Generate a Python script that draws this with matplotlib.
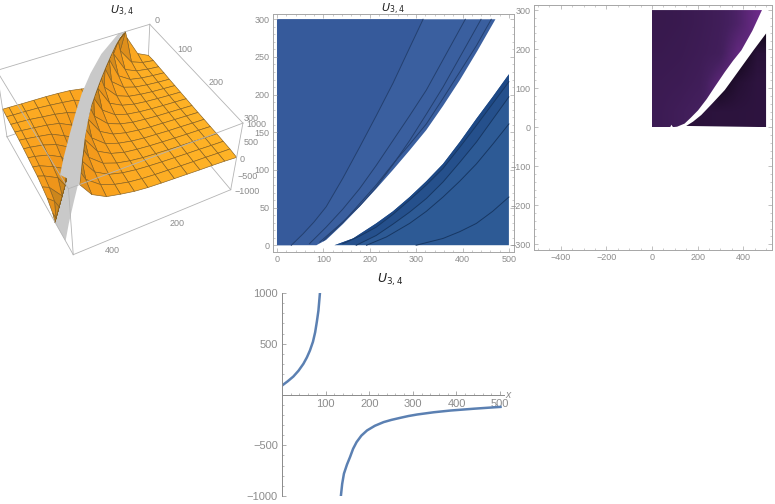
import numpy as np
import matplotlib
matplotlib.use('Agg')
import matplotlib.pyplot as plt
from matplotlib.colors import LinearSegmentedColormap
from matplotlib.patches import Polygon
from matplotlib.ticker import MultipleLocator
from mpl_toolkits.mplot3d.art3d import Poly3DCollection

# ---------- data ----------
TITLE = r'$U_{3,4}$'
# slice (bottom panel)
left_x = [0, 13, 26, 38, 49, 57, 64, 71, 76, 80, 83.5, 87]
left_y = [88, 130, 177, 235, 302, 365, 433, 520, 613, 720, 826, 1000]
right_x = [135, 138, 142, 149, 156, 163, 171, 182, 195, 213, 233, 251, 271, 290, 310, 348, 386, 440, 501]
right_y = [-1000, -880, -780, -690, -616, -535, -469, -405, -354, -308, -272, -250, -230, -212, -197, -175, -158, -140, -122]

# contour panel: upper region edge, lower region edge, contour lines
up_edge_x = [85, 106, 142, 178, 214, 250, 286, 322, 358, 394, 432, 471]
up_edge_y = [0, 7, 28, 51, 75, 100, 126, 153, 185, 219, 258, 300]
lo_edge_x = [124, 164, 214, 250, 286, 322, 358, 394, 430, 465, 500]
lo_edge_y = [0, 9, 29, 45, 64, 85, 108, 137, 168, 197, 227]
c1x = [31, 56, 80, 106, 142, 178, 214, 250, 282, 315]
c1y = [0, 15, 31, 51, 89, 130, 172, 215, 257, 300]
c2x = [70, 106, 142, 178, 214, 250, 286, 322, 364, 406]
c2y = [2, 24, 48, 75, 106, 139, 172, 206, 253, 300]
c3x = [92, 142, 178, 214, 250, 286, 322, 358, 400, 440]
c3y = [4, 31, 52, 77, 107, 139, 174, 210, 256, 300]
c4x = [100, 142, 178, 214, 250, 286, 322, 358, 394, 430, 462]
c4y = [6, 30, 55, 80, 108, 134, 161, 195, 230, 265, 300]
l1x = [142, 178, 214, 250, 286, 322, 358, 394, 430, 465, 500]
l1y = [2, 12, 24, 41, 60, 80, 102, 130, 159, 188, 217]
l2x = [171, 214, 250, 286, 322, 358, 394, 430, 465, 500]
l2y = [0, 13, 28, 44, 62, 84, 110, 137, 167, 197]
l3x = [193, 236, 286, 322, 358, 394, 430, 465, 500]
l3y = [0, 11, 29, 45, 64, 85, 108, 134, 161]
l4x = [300, 358, 394, 430, 465, 500]
l4y = [0, 9, 18, 29, 45, 64]

# density panel edges and colour values
d_up_x = [0, 80, 85, 92, 110, 143, 170, 202, 240, 275, 319, 355, 392, 440, 482]
d_up_y = [0, 0, 6, 0, 1, 9, 24, 43, 72, 103, 141, 170, 197, 247, 300]
d_lo_x = [150, 180, 216, 265, 319, 355, 392, 445, 500]
d_lo_y = [3, 14, 31, 61, 95, 124, 154, 197, 240]
d_up_vals = [[.55, .60, .66, .80, .80, .80],
             [.53, .55, .60, .80, .85, .85],
             [.50, .52, .56, .62, .85, .85],
             [.48, .50, .54, .60, .72, .90]]
d_lo_vals = [[.30, .30, .30, .32, .32, .33],
             [.30, .30, .30, .08, .25, .33],
             [.30, .30, .30, .30, .03, .28],
             [.30, .30, .30, .30, .30, .00]]

# surface: x grid, y grid, z tables
sx = [0, 40, 80, 120, 160, 200, 240, 280, 320, 360, 400, 440, 480, 500]
sy_up = [0, 20, 40, 60, 80, 100, 120, 140, 160, 180, 200, 220, 240, 260, 280, 300]
edge_up = [85, 127, 162, 191, 221, 250, 277, 305, 331, 355, 377, 395, 413, 433, 452, 471]
Top = 1000
z_up = [
 [90, 250, 820, Top, Top, Top, Top, Top, Top, Top, Top, Top, Top, Top],
 [105, 155, 280, 720, Top, Top, Top, Top, Top, Top, Top, Top, Top, Top],
 [95, 130, 190, 340, 900, Top, Top, Top, Top, Top, Top, Top, Top, Top],
 [90, 120, 160, 230, 450, Top, Top, Top, Top, Top, Top, Top, Top, Top],
 [80, 105, 140, 190, 300, 580, Top, Top, Top, Top, Top, Top, Top, Top],
 [75, 100, 125, 165, 225, 360, 730, Top, Top, Top, Top, Top, Top, Top],
 [70, 90, 115, 145, 190, 280, 460, Top, Top, Top, Top, Top, Top, Top],
 [65, 85, 105, 130, 165, 220, 330, 590, Top, Top, Top, Top, Top, Top],
 [60, 80, 100, 120, 150, 190, 270, 410, 750, Top, Top, Top, Top, Top],
 [55, 75, 95, 115, 135, 170, 225, 320, 530, Top, Top, Top, Top, Top],
 [55, 70, 90, 105, 130, 155, 200, 275, 400, 700, Top, Top, Top, Top],
 [50, 70, 85, 105, 125, 150, 185, 235, 345, 550, Top, Top, Top, Top],
 [50, 65, 85, 100, 120, 145, 170, 220, 300, 440, 750, Top, Top, Top],
 [45, 60, 80, 95, 115, 135, 160, 195, 255, 360, 580, Top, Top, Top],
 [40, 55, 75, 90, 110, 130, 150, 180, 230, 320, 470, 770, Top, Top],
 [20, 50, 70, 85, 105, 125, 145, 170, 215, 290, 380, 600, Top, Top],
]
sy_lo = [0, 20, 40, 60, 80, 100, 120, 140, 160, 180, 200, 220, 227]
edge_lo = [124, 191, 238, 278, 313, 345, 373, 398, 420, 444, 468, 492, 500]
Bot = -1000
z_lo = [
 [Bot, Bot, Bot, Bot, -680, -370, -280, -215, -185, -165, -155, -145, -130, -125],
 [Bot, Bot, Bot, Bot, Bot, -740, -450, -320, -270, -230, -195, -175, -160, -150],
 [Bot, Bot, Bot, Bot, Bot, Bot, -790, -520, -385, -310, -265, -215, -185, -175],
 [Bot, Bot, Bot, Bot, Bot, Bot, Bot, -780, -570, -385, -310, -260, -215, -195],
 [Bot, Bot, Bot, Bot, Bot, Bot, Bot, Bot, -770, -560, -375, -310, -250, -225],
 [Bot, Bot, Bot, Bot, Bot, Bot, Bot, Bot, Bot, -700, -480, -355, -285, -265],
 [Bot, Bot, Bot, Bot, Bot, Bot, Bot, Bot, Bot, Bot, -640, -440, -340, -310],
 [Bot, Bot, Bot, Bot, Bot, Bot, Bot, Bot, Bot, Bot, -790, -570, -395, -360],
 [Bot, Bot, Bot, Bot, Bot, Bot, Bot, Bot, Bot, Bot, Bot, -680, -470, -400],
 [Bot, Bot, Bot, Bot, Bot, Bot, Bot, Bot, Bot, Bot, Bot, Bot, -580, -490],
 [Bot, Bot, Bot, Bot, Bot, Bot, Bot, Bot, Bot, Bot, Bot, Bot, -770, -590],
 [Bot, Bot, Bot, Bot, Bot, Bot, Bot, Bot, Bot, Bot, Bot, Bot, Bot, -800],
 [Bot, Bot, Bot, Bot, Bot, Bot, Bot, Bot, Bot, Bot, Bot, Bot, Bot, Bot],
]
sing_x = [110, 200, 267, 325, 375, 422, 468, 500]
sing_y = [0, 40, 80, 120, 160, 200, 240, 270]

# ---------- layout ----------
W, H = 775, 504
plt.rcParams['font.family'] = ['Liberation Sans', 'DejaVu Sans']
plt.rcParams['mathtext.fontset'] = 'dejavusans'
GRAY = '#a6a6a6'
TXT = '#8c8c8c'
fig = plt.figure(figsize=(W / 100, H / 100), dpi=100)

def rect(x0, y0, x1, y1):
    return [x0 / W, 1 - y1 / H, (x1 - x0) / W, (y1 - y0) / H]

def frame(ax):
    for s in ax.spines.values():
        s.set_color(GRAY)
        s.set_linewidth(0.7)
    ax.tick_params(which='major', direction='in', length=3, width=0.5, color=GRAY,
                   top=True, right=True, labelsize=6.5, labelcolor=TXT, pad=2.5)
    ax.tick_params(which='minor', direction='in', length=1.5, width=0.4, color=GRAY,
                   top=True, right=True)

# ---------- contour panel ----------
ax2 = fig.add_axes(rect(273, 14, 514, 252))
ax2.set_xlim(-8.6, 511)
ax2.set_ylim(-9, 307)
frame(ax2)
ax2.xaxis.set_major_locator(MultipleLocator(100))
ax2.xaxis.set_minor_locator(MultipleLocator(20))
ax2.yaxis.set_major_locator(MultipleLocator(50))
ax2.yaxis.set_minor_locator(MultipleLocator(10))
ax2.fill([0] + up_edge_x + [0], [0] + up_edge_y + [300], color='#3a5f9f', lw=0)
ax2.fill([0] + c1x + [0], [0] + c1y + [300], color='#365a9b', lw=0)
ax2.fill(lo_edge_x + [500], lo_edge_y + [0], color='#2d5a95', lw=0)
ax2.fill(lo_edge_x + l1x[::-1], lo_edge_y + l1y[::-1], color='#1d4885', lw=0)
ax2.fill(l1x + l2x[::-1], l1y + l2y[::-1], color='#25508c', lw=0)
for cx, cy, col in [(c1x, c1y, '#24406f'), (c2x, c2y, '#24406f'), (c3x, c3y, '#24406f'), (c4x, c4y, '#24406f'),
                    (l1x, l1y, '#173763'), (l2x, l2y, '#173763'), (l3x, l3y, '#173763'), (l4x, l4y, '#173763')]:
    ax2.plot(cx, cy, color=col, lw=0.7)
fig.text(393 / W, 1 - 9 / H, TITLE, fontsize=8, color='#222222', ha='center', va='center')

# ---------- density panel ----------
ax3 = fig.add_axes(rect(534, 5, 772, 250))
ax3.set_xlim(-517, 526)
ax3.set_ylim(-315, 313)
frame(ax3)
ax3.xaxis.set_major_locator(MultipleLocator(200))
ax3.xaxis.set_minor_locator(MultipleLocator(50))
ax3.yaxis.set_major_locator(MultipleLocator(100))
ax3.yaxis.set_minor_locator(MultipleLocator(20))
cm = LinearSegmentedColormap.from_list('p', ['#0b0410', '#2e1440', '#45205f', '#7a2f98'])
for vals, pts in [(d_up_vals, list(zip([0] + d_up_x[1:] + [0], [0] + d_up_y[1:] + [300]))),
                  (d_lo_vals, list(zip(d_lo_x + [500], d_lo_y + [0])))]:
    im = ax3.imshow(vals, origin='lower', extent=[0, 500, 0, 300], cmap=cm, vmin=0, vmax=1,
                    interpolation='bilinear', aspect='auto')
    patch = Polygon(pts, closed=True, transform=ax3.transData, facecolor='none', edgecolor='none')
    ax3.add_patch(patch)
    im.set_clip_path(patch)
ax3.set_xlim(-517, 526)
ax3.set_ylim(-315, 313)

# ---------- slice panel ----------
ax4 = fig.add_axes(rect(282, 293, 504, 496))
ax4.set_xlim(0, 509)
ax4.set_ylim(-1000, 1000)
ax4.plot(left_x, left_y, color='#5b80b2', lw=1.8)
ax4.plot(right_x, right_y, color='#5b80b2', lw=1.8)
for s in ['top', 'right']:
    ax4.spines[s].set_visible(False)
for s in ['left', 'bottom']:
    ax4.spines[s].set_color('#8a8a8a')
    ax4.spines[s].set_linewidth(0.7)
ax4.spines['bottom'].set_position(('data', 0))
ax4.xaxis.set_minor_locator(MultipleLocator(20))
ax4.yaxis.set_minor_locator(MultipleLocator(100))
ax4.set_xticks([100, 200, 300, 400, 500])
ax4.set_yticks([-1000, -500, 500, 1000])
ax4.tick_params(which='major', direction='in', length=3, width=0.5, color='#8a8a8a',
                labelsize=8, labelcolor=TXT, pad=3)
ax4.tick_params(which='minor', direction='in', length=1.5, width=0.4, color='#8a8a8a')
ax4.text(513, 0, 'x', fontsize=7.5, style='italic', color=TXT, ha='left', va='center', clip_on=False)
fig.text(390 / W, 1 - 280 / H, TITLE, fontsize=9, color='#222222', ha='center', va='center')

# ---------- 3D panel ----------
ax1 = fig.add_axes(rect(-37, -13, 258, 282), projection='3d', computed_zorder=False)
ax1.view_init(elev=44, azim=63)
ax1.set_proj_type('persp', focal_length=0.42)
ax1.set_box_aspect((1, 1, 0.53), zoom=0.865)
ax1.set_xlim(0, 500)
ax1.set_ylim(0, 300)
ax1.set_zlim(-1000, 1000)
ax1.set_axis_off()
ax1.patch.set_alpha(0)

sxa = np.array(sx, float)
Xu = np.array([np.minimum(sxa, e) for e in edge_up])
Yu = np.array([[y] * len(sx) for y in sy_up], float)
Xl = np.array([np.maximum(sxa, e) for e in edge_lo])
Yl = np.array([[y] * len(sx) for y in sy_lo], float)
orange = LinearSegmentedColormap.from_list('o', ['#FFB527', '#FAA21E', '#F0961A', '#CC861C'])
EDGE = '#87601f'

def box_line(a, b, z, col='#b4b4b4'):
    ax1.plot([a[0], b[0]], [a[1], b[1]], [a[2], b[2]], color=col, lw=0.6, zorder=z)

bot = -1000
top = 1000
for a, b in [((0, 0, bot), (500, 0, bot)), ((0, 0, bot), (0, 300, bot)), ((0, 0, bot), (0, 0, top))]:
    box_line(a, b, 1)
grey_bot = [list(zip(sing_x, sing_y, [bot] * len(sing_x))) + list(zip(lo_edge_x[::-1], lo_edge_y[::-1], [bot] * len(lo_edge_x)))]
ax1.add_collection3d(Poly3DCollection(grey_bot, facecolor='#c9c9c9', edgecolor='none', zorder=2))
Zl = np.array(z_lo, float)
Zu = np.array(z_up, float)
ax1.plot_surface(Xl, Yl, Zl, facecolors=orange(np.abs(Zl) / 1000), edgecolor=EDGE, linewidth=0.45,
                 shade=False, zorder=3, antialiased=True)
ax1.plot_surface(Xu, Yu, Zu, facecolors=orange(np.abs(Zu) / 1000), edgecolor=EDGE, linewidth=0.45,
                 shade=False, zorder=4, antialiased=True)
grey_top = [list(zip(up_edge_x, up_edge_y, [top] * len(up_edge_x))) + list(zip(sing_x[::-1], sing_y[::-1], [top] * len(sing_x)))]
ax1.add_collection3d(Poly3DCollection(grey_top, facecolor='#c9c9c9', edgecolor='none', zorder=5))
for a, b in [((0, 0, top), (500, 0, top)), ((0, 0, top), (0, 300, top)), ((500, 0, top), (500, 300, top)),
             ((0, 300, top), (500, 300, top)), ((500, 0, bot), (500, 0, top)), ((0, 300, bot), (0, 300, top)),
             ((500, 300, bot), (500, 300, top)), ((500, 0, bot), (500, 300, bot)), ((0, 300, bot), (500, 300, bot))]:
    box_line(a, b, 6)
for xv in [200, 400]:
    ax1.text(xv, 320, bot - 40, str(xv), fontsize=6.5, color=TXT, ha='center', va='center', zorder=7)
for yv in [0, 100, 200, 300]:
    ax1.text(-25, yv, top + 40, str(yv), fontsize=6.5, color=TXT, ha='center', va='center', zorder=7)
for zv in [1000, 500, 0, -500, -1000]:
    ax1.text(-5, 306, zv, f'{zv}'.replace('-', '\u2212'), fontsize=6.5, color=TXT, ha='left', va='center', zorder=7)
fig.text(122 / W, 1 - 11 / H, TITLE, fontsize=8, color='#222222', ha='center', va='center')

fig.savefig('out.png', dpi=100)
